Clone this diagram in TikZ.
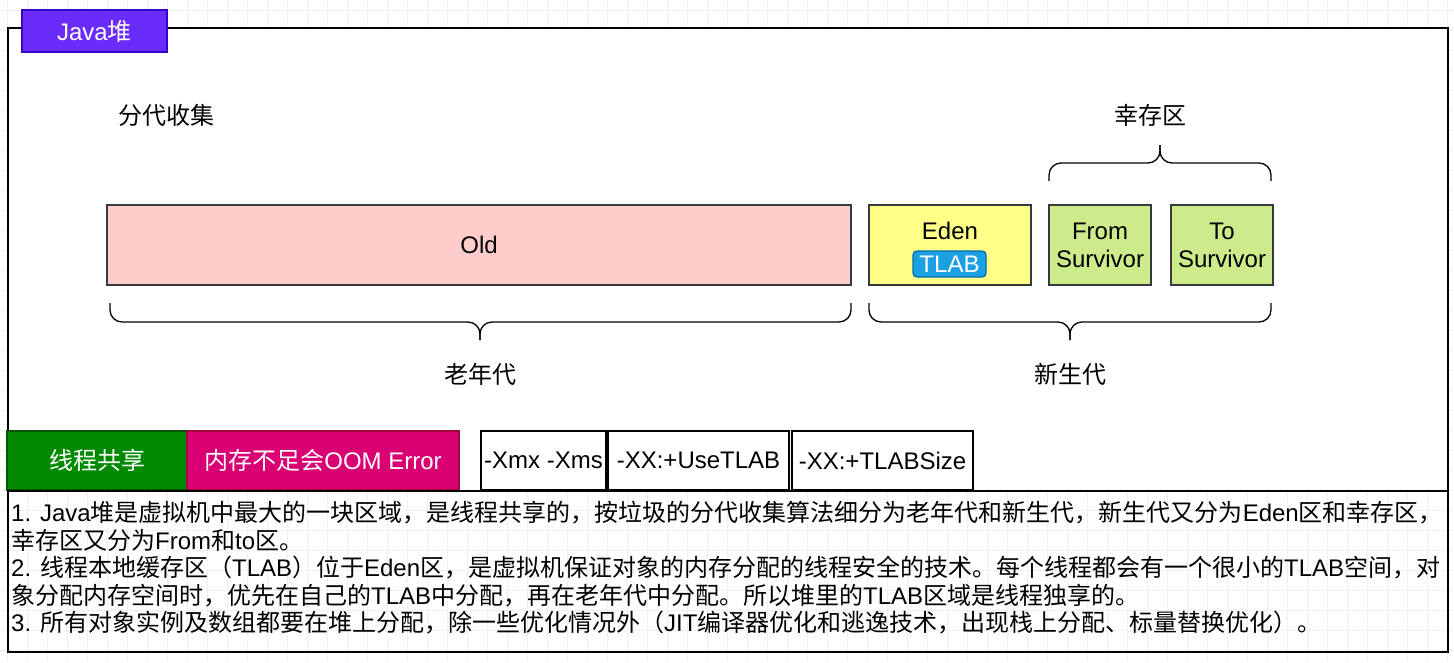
\documentclass[tikz,border=0pt]{standalone}
\usepackage{fontspec}
\setmainfont{Liberation Sans}
\newfontfamily\cjk{Noto Sans CJK SC}

\definecolor{violetfill}{HTML}{6A2CFA}
\definecolor{violetline}{HTML}{3700CC}
\definecolor{edgegray}{HTML}{36393D}
\definecolor{oldfill}{HTML}{FFCCCC}
\definecolor{edenfill}{HTML}{FFFF88}
\definecolor{survfill}{HTML}{CDEB8B}
\definecolor{tlabfill}{HTML}{1BA1E2}
\definecolor{tlabline}{HTML}{006EAF}
\definecolor{sharefill}{HTML}{008A00}
\definecolor{shareline}{HTML}{005700}
\definecolor{oomfill}{HTML}{D80073}
\definecolor{oomline}{HTML}{A50040}

\newcommand\en[1]{{\rmfamily #1}}

\begin{document}
\begin{tikzpicture}[x=1pt,y=-1pt,
	every node/.style={font=\fontsize{24}{28}\selectfont, inner sep=0pt},
	gridline/.style={draw=black!6, line width=0.8pt},
	area/.style={draw=edgegray, line width=1.3pt, minimum height=80pt, align=center},
	flag/.style={line width=1.3pt, minimum height=59pt, text=white, align=center},
	opt/.style={draw=black, line width=1.6pt, fill=white, minimum height=59pt},
	lbl/.style={font=\fontsize{24}{28}\selectfont\cjk},
	bracket/.style={draw, line width=1.3pt, rounded corners=12pt}]
	\useasboundingbox (0,0) rectangle (1454,662);

	% background grid
	\foreach \gx in {7,27,...,1447} \draw[gridline] (\gx,0) -- (\gx,662);
	\foreach \gy in {10,30,...,650} \draw[gridline] (0,\gy) -- (1454,\gy);

	% heap
	\node (heap)[draw, fill=white, line width=2pt, anchor=north west, minimum width=1440pt, minimum height=463pt] at (7,27) {};
	\node (title)[draw=violetline, fill=violetfill, line width=1.3pt, text=white, minimum width=145pt, minimum height=42pt] at (94.5,31) {Java{\cjk 堆}};

	\node (gen)[lbl] at (166,115) {分代收集};
	\node (surv)[lbl] at (1150,115) {幸存区};

	\node (old)[area, fill=oldfill, minimum width=744pt] at (479,245) {Old};
	\node (eden)[area, fill=edenfill, minimum width=162pt] at (950,245) {};
	\node (edentxt) at (950,231) {Eden};
	\node (tlab)[draw=tlabline, fill=tlabfill, line width=1.3pt, rounded corners=4pt, text=white, minimum width=73pt, minimum height=26pt] at (949.5,264) {TLAB};
	\node (from)[area, fill=survfill, minimum width=102pt] at (1100,245) {From\\Survivor};
	\node (to)[area, fill=survfill, minimum width=102pt] at (1222,245) {To\\Survivor};

	% braces
	\coordinate (oldL) at (110,303);
	\coordinate (oldR) at (851,303);
	\coordinate (oldT) at (480,340);
	\coordinate (newL) at (869,303);
	\coordinate (newR) at (1271,303);
	\coordinate (newT) at (1070,340);
	\coordinate (survL) at (1049,181);
	\coordinate (survR) at (1271,181);
	\coordinate (survT) at (1160,145);
	\draw[bracket] (oldL) |- (oldT |- 0,322) -- (oldT);
	\draw[bracket] (oldR) |- (oldT |- 0,322) -- (oldT);
	\draw[bracket] (newL) |- (newT |- 0,322) -- (newT);
	\draw[bracket] (newR) |- (newT |- 0,322) -- (newT);
	\draw[bracket] (survL) |- (survT |- 0,163) -- (survT);
	\draw[bracket] (survR) |- (survT |- 0,163) -- (survT);

	\node (oldgen)[lbl] at (480,374) {老年代};
	\node (newgen)[lbl] at (1070,374) {新生代};

	% flags
	\node (share)[flag, draw=shareline, fill=sharefill, minimum width=180pt, font=\fontsize{24}{28}\selectfont\cjk] at (97,460.5) {线程共享};
	\node (oom)[flag, draw=oomline, fill=oomfill, minimum width=272pt] at (323,460.5) {{\cjk 内存不足会}OOM Error};
	\node (xmx)[opt, minimum width=125pt] at (543.5,460.5) {-Xmx -Xms};
	\node (usetlab)[opt, minimum width=181pt] at (698.5,460.5) {-XX:+UseTLAB};
	\node (tlabsize)[opt, minimum width=181pt] at (882.5,460.5) {-XX:+TLABSize};

	% notes
	\node (notes)[draw, line width=2pt, anchor=north west, minimum width=1440pt, minimum height=161pt] at (7,490) {};
	\node (notetxt)[anchor=north west, align=left, font=\fontsize{24}{27.6}\selectfont\cjk] at (11,501) {%
		\en{1. Java}堆是虚拟机中最大的一块区域，是线程共享的，按垃圾的分代收集算法细分为老年代和新生代，新生代又分为\en{Eden}区和幸存区，\\
		幸存区又分为\en{From}和\en{to}区。\\
		\en{2. }线程本地缓存区（\en{TLAB}）位于\en{Eden}区，是虚拟机保证对象的内存分配的线程安全的技术。每个线程都会有一个很小的\en{TLAB}空间，对\\
		象分配内存空间时，优先在自己的\en{TLAB}中分配，再在老年代中分配。所以堆里的\en{TLAB}区域是线程独享的。\\
		\en{3. }所有对象实例及数组都要在堆上分配，除一些优化情况外（\en{JIT}编译器优化和逃逸技术，出现栈上分配、标量替换优化）。};
\end{tikzpicture}
\end{document}
